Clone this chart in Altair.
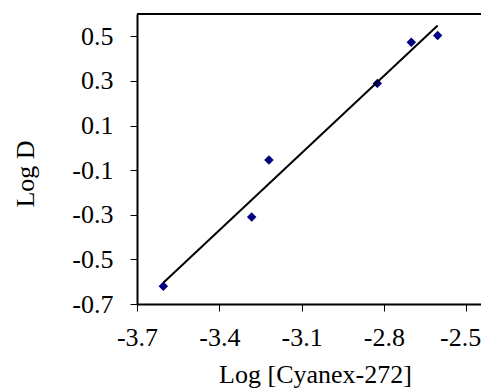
import altair as alt
import pandas as pd

# Data
log_cyanex = [-3.604, -3.282, -3.219, -2.824, -2.700, -2.604]
log_d = [-0.620, -0.310, -0.054, 0.289, 0.473, 0.504]
x_ticks = [-3.7, -3.4, -3.1, -2.8, -2.5]
y_ticks = [-0.7, -0.5, -0.3, -0.1, 0.1, 0.3, 0.5]
x_domain = [-3.7, -2.446]
y_domain = [-0.7, 0.6]

df = pd.DataFrame({"x": log_cyanex, "y": log_d})

W, H = 344, 290
FONT = "Liberation Serif"
label_expr = "datum.value < 0 ? '-' + format(-datum.value, '.1f') : format(datum.value, '.1f')"

xscale = alt.Scale(domain=x_domain, nice=False, zero=False)
yscale = alt.Scale(domain=y_domain, nice=False, zero=False)

common = dict(
    grid=False, domainColor="black", domainWidth=2, tickColor="black",
    tickWidth=1, tickSize=7, labelFont=FONT, labelFontSize=26,
    labelColor="black", labelExpr=label_expr, titleFont=FONT,
    titleFontSize=26, titleFontWeight="normal", titleColor="black",
    labelFlush=False, labelOverlap=False,
)

xaxis = alt.Axis(values=x_ticks, title="Log [Cyanex-272]", labelPadding=13,
                 labelOffset={"condition": {"test": "datum.value > -2.6", "value": -6}, "value": 0},
                 titleBaseline="alphabetic", titleY=78, titleX=178,
                 titleAlign="center", **common)
yaxis = alt.Axis(values=y_ticks, title="Log D", labelPadding=17,
                 titleAngle=270, titleBaseline="alphabetic", titleX=-103.5,
                 titleY=159.5, titleAlign="center", **common)

frame = alt.Chart(pd.DataFrame({"a": [0]})).mark_rule(
    color="black", strokeWidth=2
).encode(x=alt.value(0), x2=alt.value(W), y=alt.value(0))

points = alt.Chart(df).mark_point(
    shape="diamond", filled=True, size=90, color="#000080", opacity=1
).encode(
    x=alt.X("x:Q", scale=xscale, axis=xaxis),
    y=alt.Y("y:Q", scale=yscale, axis=yaxis),
)

line = alt.Chart(df).transform_regression("x", "y").mark_line(
    color="black", strokeWidth=2
).encode(x="x:Q", y="y:Q")

chart = alt.layer(frame, points, line).properties(
    width=W, height=H,
    autosize=alt.AutoSizeParams(type="none"),
    padding={"left": 129, "top": 6, "right": 0, "bottom": 85},
    background="white",
).configure_view(stroke=None)

chart.save("out.html", embed_options={"renderer": "svg", "actions": False})
